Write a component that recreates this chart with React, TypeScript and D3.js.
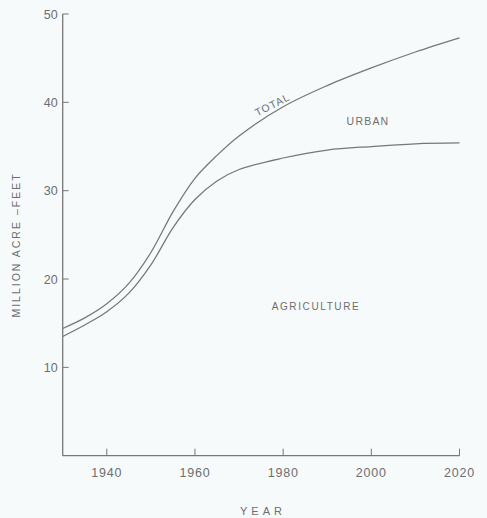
import React from "react";
import * as d3 from "d3";

// Projected water demand, million acre-feet
const years = [1930, 1935, 1940, 1945, 1950, 1955, 1960, 1965, 1970, 1980, 1990, 2000, 2010, 2020];
const totalUse = [14.4, 15.6, 17.2, 19.5, 23.0, 27.6, 31.4, 34.0, 36.2, 39.5, 41.9, 43.9, 45.7, 47.3];
const agricultureUse = [13.5, 14.8, 16.3, 18.4, 21.6, 25.8, 29.0, 31.1, 32.4, 33.7, 34.6, 35.0, 35.3, 35.4];

const xTicks = [1940, 1960, 1980, 2000, 2020];
const yTicks = [10, 20, 30, 40, 50];

const W = 487;
const H = 518;
const INK = "#777777";
const TEXT = "#6e6e6e";
const FONT = "'Liberation Sans', Arial, sans-serif";

export default function App() {
  const x = d3.scaleLinear().domain([1930, 2020]).range([62.7, 459.5]);
  const y = d3.scaleLinear().domain([0, 50]).range([455.7, 14]);

  const line = d3
    .line<number>()
    .x((_, i) => x(years[i]))
    .y((v) => y(v))
    .curve(d3.curveCatmullRom.alpha(0.5));

  const x0 = x.range()[0];
  const y0 = y(0);

  return (
    <svg
      width={W}
      height={H}
      style={{ position: "absolute", left: 0, top: 0, background: "#f6fafa" }}
      fontFamily={FONT}
    >
      <rect width={W} height={H} fill="#f6fafa" />
      {/* axes */}
      <line x1={x0} x2={x0} y1={y0} y2={y(50)} stroke={INK} strokeWidth={1.3} />
      <line x1={x0} x2={x(2020)} y1={y0} y2={y0} stroke={INK} strokeWidth={1.3} />
      {yTicks.map((t) => (
        <g key={t}>
          <line x1={x0} x2={x0 + 6} y1={y(t)} y2={y(t)} stroke={INK} strokeWidth={1} />
          <text x={x0 - 5} y={y(t)} dy="0.36em" textAnchor="end" fontSize={12.5} fill={TEXT}>
            {t}
          </text>
        </g>
      ))}
      {xTicks.map((t) => (
        <g key={t}>
          <line x1={x(t)} x2={x(t)} y1={y0} y2={y0 - 7} stroke={INK} strokeWidth={1} />
          <text x={x(t)} y={y0 + 21} textAnchor="middle" fontSize={12.5} fill={TEXT} letterSpacing={0.8}>
            {t}
          </text>
        </g>
      ))}

      {/* curves */}
      <path d={line(totalUse) ?? ""} fill="none" stroke={INK} strokeWidth={1.25} />
      <path d={line(agricultureUse) ?? ""} fill="none" stroke={INK} strokeWidth={1.25} />

      {/* area labels */}
      <text
        x={274}
        y={108}
        transform="rotate(-27 274 108)"
        textAnchor="middle"
        fontSize={10.5}
        fill={TEXT}
        letterSpacing={1}
      >
        TOTAL
      </text>
      <text x={368} y={125} textAnchor="middle" fontSize={10.5} fill={TEXT} letterSpacing={1.2}>
        URBAN
      </text>
      <text x={316} y={310} textAnchor="middle" fontSize={10} fill={TEXT} letterSpacing={1.6}>
        AGRICULTURE
      </text>

      {/* axis titles */}
      <text
        x={20}
        y={245}
        transform="rotate(-90 20 245)"
        textAnchor="middle"
        fontSize={10.5}
        fill={TEXT}
        letterSpacing={2}
      >
        MILLION  ACRE –FEET
      </text>
      <text x={263} y={515} textAnchor="middle" fontSize={11} fill={TEXT} letterSpacing={4}>
        YEAR
      </text>
    </svg>
  );
}
